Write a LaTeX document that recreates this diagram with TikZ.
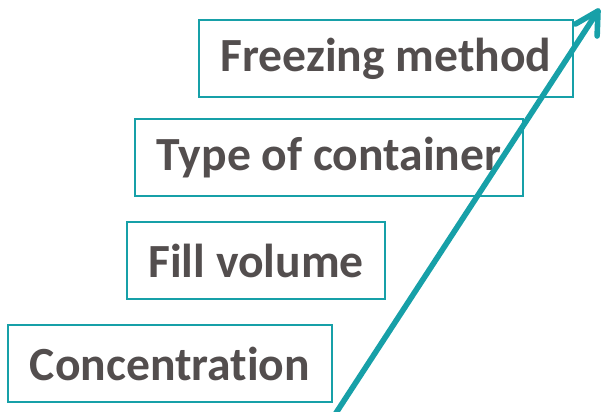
\documentclass[tikz,border=0pt]{standalone}
\usepackage{fontspec}
\setmainfont{Carlito}[Ligatures=NoCommon]
\usetikzlibrary{calc}
\definecolor{teal}{HTML}{17A0A8}
\definecolor{txt}{HTML}{534E4E}
\begin{document}
\begin{tikzpicture}[x=0.75pt,y=-0.75pt,
  stage/.style={draw=teal, line width=1.5pt, inner sep=0pt, text=txt,
    font=\fontsize{35.7}{42}\selectfont\bfseries},
  rise/.style={draw=teal, line width=4.2pt, line cap=round, line join=round}]
  \useasboundingbox (0,0) rectangle (603,411);
  \clip (0,0) rectangle (603,411);
  % stacked boxes, lowest first
  \node[stage, minimum width=324*0.75pt, minimum height=77*0.75pt] (conc) at (170,363.5) {Concentration};
  \node[stage, minimum width=258*0.75pt, minimum height=77*0.75pt] (fill) at (256,260.5) {Fill volume};
  \node[stage, minimum width=388*0.75pt, minimum height=77*0.75pt] (cont) at (329,157.5) {Type of container};
  \node[stage, minimum width=374*0.75pt, minimum height=77*0.75pt] (freeze) at (386,58.5) {Freezing method};
  % rising arrow with an open barb head
  \coordinate (start) at (334,416);
  \coordinate (tip) at (598,11);
  \coordinate (barbL) at ($(tip)+(150:26)$);
  \coordinate (barbR) at ($(tip)+(92:25)$);
  \draw[rise] (start) -- (tip);
  \draw[rise] (barbL) -- (tip) -- (barbR);
\end{tikzpicture}
\end{document}
